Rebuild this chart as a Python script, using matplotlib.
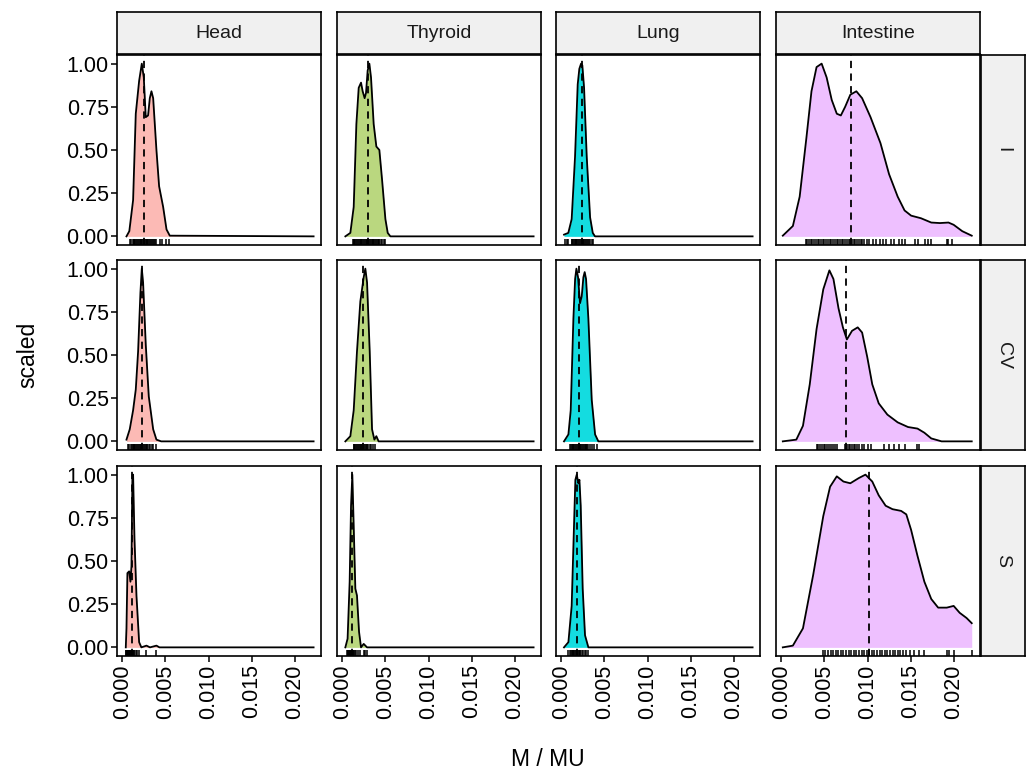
import numpy as np
import matplotlib
matplotlib.use("Agg")
import matplotlib.pyplot as plt
from matplotlib.transforms import blended_transform_factory

plt.rcParams['font.family'] = ['Liberation Sans', 'DejaVu Sans']

organs = ["Head", "Thyroid", "Lung", "Intestine"]
metrics = ["I", "CV", "S"]
fills = {"Head": "#FCBAB5", "Thyroid": "#BAD77F", "Lung": "#14DCE0", "Intestine": "#EEC0FF"}

# density curves: x in units of 0.001, y scaled to max 1
curve_x = {
    ("I", "Head"): [0.47, 0.8, 1.24, 1.55, 1.94, 2.25, 2.48, 2.71, 2.98, 3.18, 3.37, 3.57, 3.95, 4.26, 4.73, 5.12, 5.5, 22.2],
    ("I", "Thyroid"): [0.34, 0.92, 1.31, 1.62, 1.89, 2.16, 2.35, 2.58, 2.74, 2.93, 3.13, 3.32, 3.63, 3.94, 4.29, 4.6, 4.99, 5.26, 5.57, 22.2],
    ("I", "Lung"): [0.3, 0.8, 1.19, 1.58, 1.89, 2.08, 2.28, 2.43, 2.63, 2.94, 3.33, 3.64, 3.9, 22.2],
    ("I", "Intestine"): [0.16, 1.33, 2.12, 2.9, 3.49, 4.08, 4.67, 5.25, 5.84, 6.43, 6.9, 7.4, 8.0, 8.7, 9.37, 10.35, 11.5, 12.5, 13.5, 14.3, 15.06, 16.2, 17.4, 18.4, 19.4, 20.0, 21.0, 22.1],
    ("CV", "Head"): [0.47, 0.85, 1.24, 1.55, 1.82, 2.09, 2.25, 2.4, 2.71, 3.06, 3.57, 3.95, 4.5, 22.2],
    ("CV", "Thyroid"): [0.34, 0.92, 1.31, 1.69, 2.08, 2.47, 2.66, 2.86, 3.17, 3.44, 3.71, 3.94, 4.2, 22.2],
    ("CV", "Lung"): [0.3, 0.81, 1.08, 1.39, 1.59, 1.74, 1.93, 2.16, 2.36, 2.55, 2.7, 2.86, 3.13, 3.52, 3.91, 4.29, 22.2],
    ("CV", "Intestine"): [0.16, 1.73, 2.5, 3.29, 4.08, 4.86, 5.57, 6.04, 6.63, 7.14, 7.6, 8.2, 8.86, 9.37, 9.96, 10.55, 11.3, 12.3, 13.5, 14.7, 15.8, 16.6, 17.4, 18.6, 22.1],
    ("S", "Head"): [0.39, 0.47, 0.58, 0.78, 0.93, 1.05, 1.16, 1.24, 1.4, 1.63, 1.94, 2.2, 2.79, 3.2, 3.95, 4.3, 22.2],
    ("S", "Thyroid"): [0.34, 0.6, 0.84, 1.0, 1.15, 1.3, 1.5, 1.69, 1.93, 2.16, 2.47, 2.86, 22.2],
    ("S", "Lung"): [0.3, 0.81, 1.19, 1.47, 1.62, 1.78, 1.97, 2.09, 2.24, 2.47, 2.74, 3.13, 22.2],
    ("S", "Intestine"): [0.16, 1.33, 2.5, 3.69, 4.86, 5.65, 6.43, 7.2, 8.0, 8.98, 9.76, 10.55, 11.3, 12.1, 12.9, 13.9, 14.5, 15.06, 15.8, 16.6, 17.4, 18.2, 19.2, 20.0, 20.7, 21.5, 22.1],
}
curve_y = {
    ("I", "Head"): [0.0, 0.03, 0.21, 0.71, 0.90, 1.0, 0.92, 0.69, 0.70, 0.80, 0.84, 0.80, 0.50, 0.29, 0.17, 0.04, 0.004, 0.0],
    ("I", "Thyroid"): [0.0, 0.02, 0.17, 0.65, 0.86, 0.89, 0.84, 0.80, 0.83, 0.96, 1.0, 0.92, 0.65, 0.52, 0.50, 0.33, 0.10, 0.02, 0.0, 0.0],
    ("I", "Lung"): [0.01, 0.02, 0.10, 0.46, 0.88, 0.97, 1.0, 0.99, 0.86, 0.46, 0.11, 0.02, 0.0, 0.0],
    ("I", "Intestine"): [0.004, 0.06, 0.23, 0.57, 0.84, 0.98, 1.0, 0.92, 0.79, 0.71, 0.70, 0.75, 0.82, 0.84, 0.80, 0.69, 0.54, 0.36, 0.23, 0.15, 0.12, 0.105, 0.08, 0.077, 0.08, 0.067, 0.03, 0.004],
    ("CV", "Head"): [0.01, 0.07, 0.18, 0.30, 0.52, 0.86, 1.0, 0.92, 0.56, 0.26, 0.07, 0.01, 0.0, 0.0],
    ("CV", "Thyroid"): [0.0, 0.03, 0.18, 0.52, 0.81, 0.95, 1.0, 0.92, 0.52, 0.07, 0.01, 0.03, 0.0, 0.0],
    ("CV", "Lung"): [0.0, 0.04, 0.18, 0.71, 0.94, 1.0, 0.95, 0.80, 0.84, 0.95, 0.98, 0.94, 0.71, 0.24, 0.04, 0.0, 0.0],
    ("CV", "Intestine"): [0.0, 0.01, 0.09, 0.33, 0.65, 0.88, 0.99, 0.94, 0.77, 0.66, 0.59, 0.64, 0.66, 0.63, 0.49, 0.33, 0.22, 0.155, 0.11, 0.083, 0.074, 0.05, 0.017, 0.0, 0.0],
    ("S", "Head"): [0.0, 0.11, 0.43, 0.44, 0.38, 0.47, 1.0, 1.0, 0.63, 0.30, 0.03, 0.0, 0.01, 0.0, 0.01, 0.0, 0.0],
    ("S", "Thyroid"): [0.0, 0.05, 0.38, 0.82, 1.0, 0.72, 0.34, 0.30, 0.09, 0.0, 0.02, 0.0, 0.0],
    ("S", "Lung"): [0.0, 0.03, 0.24, 0.72, 0.97, 1.0, 0.95, 0.97, 0.82, 0.34, 0.07, 0.0, 0.0],
    ("S", "Intestine"): [0.0, 0.01, 0.11, 0.42, 0.76, 0.93, 0.99, 0.96, 0.95, 0.98, 1.0, 0.96, 0.88, 0.82, 0.80, 0.79, 0.77, 0.68, 0.53, 0.38, 0.28, 0.23, 0.23, 0.24, 0.20, 0.17, 0.14],
}

# dashed reference line per panel (x in 0.001)
vline = {
    ("I", "Head"): 2.51, ("I", "Thyroid"): 2.93, ("I", "Lung"): 2.36, ("I", "Intestine"): 8.03,
    ("CV", "Head"): 2.25, ("CV", "Thyroid"): 2.40, ("CV", "Lung"): 2.08, ("CV", "Intestine"): 7.52,
    ("S", "Head"): 1.16, ("S", "Thyroid"): 1.15, ("S", "Lung"): 1.78, ("S", "Intestine"): 10.18,
}

# rug positions (x in 0.001)
rugs = {
    ("I", "Head"): [0.85, 1.05, 1.24, 1.3, 1.4, 1.5, 1.6, 1.7, 1.8, 1.9, 2.0, 2.1, 2.2, 2.3, 2.4, 2.5, 2.6, 2.7, 2.8, 2.9, 3.0, 3.1, 3.2, 3.3, 3.4, 3.5, 3.65, 3.8, 3.9, 4.34, 4.65, 5.1, 5.4],
    ("I", "Thyroid"): [1.23, 1.3, 1.4, 1.5, 1.6, 1.7, 1.8, 1.9, 2.0, 2.1, 2.2, 2.3, 2.4, 2.5, 2.6, 2.7, 2.8, 2.9, 3.0, 3.1, 3.2, 3.3, 3.4, 3.5, 3.6, 3.7, 3.8, 3.9, 4.0, 4.1, 4.2, 4.3, 4.45, 4.6, 4.8, 5.0],
    ("I", "Lung"): [0.42, 0.61, 0.8, 1.19, 1.25, 1.35, 1.45, 1.55, 1.65, 1.75, 1.85, 1.95, 2.05, 2.15, 2.25, 2.35, 2.45, 2.55, 2.65, 2.75, 2.85, 2.95, 3.05, 3.15, 3.3, 3.5, 3.64],
    ("I", "Intestine"): [2.8, 3.0, 3.2, 3.4, 3.6, 3.8, 4.0, 4.2, 4.4, 4.6, 4.8, 5.0, 5.2, 5.4, 5.6, 5.8, 6.0, 6.2, 6.4, 6.6, 6.8, 7.0, 7.2, 7.4, 7.6, 7.8, 8.0, 8.2, 8.4, 8.6, 8.8, 9.0, 9.2, 9.4, 9.6, 9.9, 10.2, 10.6, 11.0, 11.4, 11.8, 12.2, 12.7, 13.1, 13.6, 14.0, 14.3, 15.5, 15.9, 16.7, 17.0, 17.4, 19.2, 19.4, 19.8],
    ("CV", "Head"): [0.66, 0.8, 0.95, 1.1, 1.2, 1.3, 1.4, 1.5, 1.6, 1.7, 1.8, 1.9, 2.0, 2.1, 2.2, 2.3, 2.4, 2.5, 2.6, 2.7, 2.8, 2.9, 3.05, 3.2, 3.4, 3.6, 3.95],
    ("CV", "Thyroid"): [1.3, 1.4, 1.5, 1.6, 1.7, 1.8, 1.9, 2.0, 2.1, 2.2, 2.3, 2.4, 2.5, 2.6, 2.7, 2.8, 2.9, 3.0, 3.15, 3.3, 3.6, 3.8],
    ("CV", "Lung"): [1.0, 1.1, 1.2, 1.3, 1.4, 1.5, 1.6, 1.7, 1.8, 1.9, 2.0, 2.1, 2.2, 2.3, 2.4, 2.5, 2.6, 2.7, 2.8, 2.9, 3.0, 3.1, 3.3, 3.5, 3.75, 4.1],
    ("CV", "Intestine"): [4.1, 4.3, 4.5, 4.7, 4.9, 5.1, 5.3, 5.5, 5.7, 6.0, 6.2, 6.4, 7.4, 7.6, 7.8, 8.0, 8.2, 8.4, 8.6, 8.8, 9.0, 9.3, 9.6, 10.0, 10.35, 11.9, 12.5, 13.1, 13.7, 14.3, 15.8, 16.0],
    ("S", "Head"): [0.39, 0.45, 0.5, 0.55, 0.6, 0.65, 0.7, 0.75, 0.8, 0.85, 0.9, 0.95, 1.0, 1.05, 1.1, 1.15, 1.2, 1.3, 1.4, 1.55, 1.7, 1.94, 2.79, 3.95],
    ("S", "Thyroid"): [0.53, 0.6, 0.65, 0.7, 0.75, 0.8, 0.85, 0.9, 0.95, 1.0, 1.05, 1.1, 1.15, 1.2, 1.25, 1.35, 1.45, 1.6, 1.8, 2.08, 2.47, 2.66, 2.86],
    ("S", "Lung"): [0.81, 1.0, 1.1, 1.2, 1.3, 1.4, 1.5, 1.6, 1.7, 1.8, 1.9, 2.0, 2.1, 2.2, 2.35, 2.5, 2.7, 2.9, 3.13],
    ("S", "Intestine"): [4.86, 5.1, 5.4, 5.7, 6.0, 6.3, 6.6, 6.9, 7.2, 7.5, 7.8, 8.1, 8.4, 8.7, 9.0, 9.3, 9.6, 9.9, 10.2, 10.5, 10.8, 11.1, 11.4, 11.7, 12.0, 12.3, 12.6, 12.9, 13.2, 13.5, 13.8, 14.1, 14.5, 14.9, 15.4, 16.0, 16.6, 19.2, 19.5, 20.0, 22.1],
}

x_ticks = [0.0, 0.005, 0.010, 0.015, 0.020]
x_ticklabels = ["0.000", "0.005", "0.010", "0.015", "0.020"]
y_ticks = [0.0, 0.25, 0.5, 0.75, 1.0]
y_ticklabels = ["0.00", "0.25", "0.50", "0.75", "1.00"]

W, H = 1027, 776
fig = plt.figure(figsize=(W / 100, H / 100), dpi=100)

col_left = [117, 337, 556, 776]
pw = 204
row_top = [55, 260, 466]
ph = 190
strip_h = 42
strip_w = 44
lw_border = 1.2

xlim = (-0.00063, 0.02306)
ylim = (-0.05, 1.05)

for r, m in enumerate(metrics):
    for c, org in enumerate(organs):
        ax = fig.add_axes([col_left[c] / W, 1 - (row_top[r] + ph) / H, pw / W, ph / H])
        key = (m, org)
        xs = np.array(curve_x[key]) / 1000
        ys = np.array(curve_y[key])
        ax.fill_between(xs, 0, ys, color=fills[org], lw=0, zorder=1)
        ax.plot(xs, ys, color="black", lw=1.3, zorder=3, solid_joinstyle="round")
        ax.axvline(vline[key] / 1000, color="black", ls=(0, (4, 3)), lw=1.3, zorder=4)
        trans = blended_transform_factory(ax.transData, ax.transAxes)
        ax.vlines(np.array(rugs[key]) / 1000, 0, 0.03, transform=trans,
                  color="black", lw=1.3, alpha=0.85, zorder=2)
        ax.set_xlim(*xlim)
        ax.set_ylim(*ylim)
        ax.set_xticks(x_ticks)
        ax.set_yticks(y_ticks)
        for s in ax.spines.values():
            s.set_linewidth(lw_border)
            s.set_color("black")
        ax.tick_params(length=4, width=1.1, color="black", labelsize=15.5, pad=2)
        if c == 0:
            ax.set_yticklabels(y_ticklabels)
        else:
            ax.tick_params(axis="y", left=False, labelleft=False)
        if r == 2:
            ax.set_xticklabels(x_ticklabels, rotation=90)
        else:
            ax.tick_params(axis="x", bottom=False, labelbottom=False)

        # top strips
        if r == 0:
            sax = fig.add_axes([col_left[c] / W, 1 - (row_top[0] - 1) / H, pw / W, strip_h / H])
            sax.set_facecolor("#F0F0F0")
            sax.set_xticks([])
            sax.set_yticks([])
            for s in sax.spines.values():
                s.set_linewidth(lw_border)
            sax.text(0.5, 0.5, org, ha="center", va="center", fontsize=14, color="#1A1A1A",
                     transform=sax.transAxes)
        # right strips
        if c == 3:
            rax = fig.add_axes([(col_left[3] + pw + 1) / W, 1 - (row_top[r] + ph) / H, strip_w / W, ph / H])
            rax.set_facecolor("#F0F0F0")
            rax.set_xticks([])
            rax.set_yticks([])
            for s in rax.spines.values():
                s.set_linewidth(lw_border)
            rax.text(0.5, 0.5, m, ha="center", va="center", fontsize=14, color="#1A1A1A",
                     rotation=-90, transform=rax.transAxes)

fig.text(28 / W, 1 - 355 / H, "scaled", rotation=90, ha="center", va="center", fontsize=16.5)
fig.text(548 / W, 1 - 760 / H, "M / MU", ha="center", va="center", fontsize=16.5)

fig.savefig("out.png", dpi=100)
